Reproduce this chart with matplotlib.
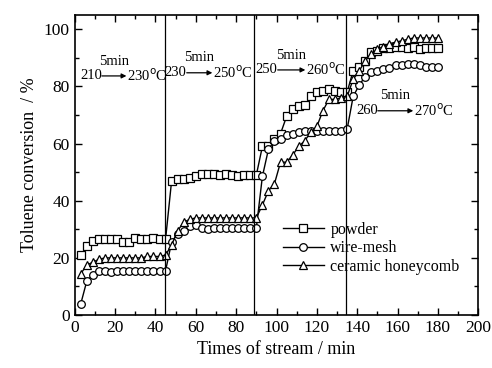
import matplotlib.pyplot as plt
import numpy as np

plt.rcParams['font.family'] = ['Liberation Serif', 'DejaVu Serif']

# time on stream (min), one point every 3 min
t = list(range(3, 181, 3))

powder = [21, 24, 26, 26.5, 26.5, 26.5, 26.5, 25.5, 25.5, 27, 26.5, 26.5, 27, 26.5, 26.5,
          47, 47.5, 47.5, 48, 48.5, 49.5, 49.5, 49.5, 49, 49.5, 49, 48.5, 49, 49, 49,
          59, 59, 61.5, 63.5, 69.5, 72, 73, 73.5, 76.5, 78, 78.5, 79, 78.5, 78, 78,
          85.5, 87, 89, 92, 92.5, 93.5, 93.5, 94, 94, 93.5, 94, 93, 93.5, 93.5, 93.5]

wire = [4, 12, 14, 15.5, 15.5, 15, 15.5, 15.5, 15.5, 15.5, 15.5, 15.5, 15.5, 15.5, 15.5,
        25.5, 28.5, 29.5, 31, 31.5, 30.5, 30, 30.5, 30.5, 30.5, 30.5, 30.5, 30.5, 30.5, 30.5,
        48.5, 58, 61, 61.5, 63, 63.5, 64, 64.5, 64.5, 64.5, 64.5, 64.5, 64.5, 64.5, 65,
        76.5, 80.5, 83.5, 85, 85.5, 86, 86.5, 87.5, 87.5, 88, 88, 87.5, 87, 87, 87]

ceramic = [14.5, 17.5, 18.5, 19.5, 20, 20, 20, 20, 20, 20, 20, 20.5, 20.5, 20.5, 21,
           24.5, 29.5, 32.5, 33.5, 34, 34, 34, 34, 34, 34, 34, 34, 34, 34, 34,
           38.5, 43.5, 46, 53.5, 53.5, 56, 59, 61, 64, 66, 71.5, 75.5, 75.5, 76, 76.5,
           82.5, 85.5, 89, 91.5, 93, 94, 95, 95.5, 96, 96.5, 97, 97, 97, 97, 97]

switch_t = [44.5, 89, 134.5]

fig = plt.figure(figsize=(4.92, 3.68), dpi=100)
ax = fig.add_axes([0.152, 0.144, 0.82, 0.815])

mk = dict(color='k', lw=1, markersize=5.5, markerfacecolor='white', markeredgewidth=0.9)
ax.plot(t, powder, marker='s', label='powder', **mk)
ax.plot(t, wire, marker='o', label='wire-mesh', **mk)
ax.plot(t, ceramic, marker='^', label='ceramic honeycomb', **mk)

for xv in switch_t:
    ax.axvline(xv, color='k', lw=0.9)

# temperature ramp notes
ramps = [(13.4, 25.6, 83.7, '210', '230'),
         (55.5, 68.2, 84.8, '230', '250'),
         (100.6, 114.3, 85.8, '250', '260'),
         (150.2, 167.8, 71.5, '260', '270')]
for x0, x1, yv, a, b in ramps:
    ax.annotate('', xy=(x1, yv), xytext=(x0, yv),
                arrowprops=dict(arrowstyle='-|>', color='k', lw=0.9,
                                mutation_scale=7, shrinkA=0, shrinkB=0))
    ax.text(x0, yv, a, ha='right', va='center', fontsize=10.5)
    ax.text(x1 + 0.3, yv, b + r'$^{\rm o}$C', ha='left', va='center', fontsize=10.5)
    ax.text((x0 + x1) / 2, yv + 5.2, '5min', ha='center', va='center', fontsize=10.5)

ax.set_xlim(0, 200)
ax.set_ylim(0, 105)
ax.set_xticks(np.arange(0, 201, 20))
ax.set_xticks(np.arange(0, 201, 10), minor=True)
ax.set_yticks(np.arange(0, 101, 20))
ax.set_yticks(np.arange(0, 101, 10), minor=True)
ax.tick_params(which='both', direction='in', top=True, right=True, labelsize=12.5, width=1)
ax.tick_params(which='major', length=5)
ax.tick_params(which='minor', length=3)
for s in ax.spines.values():
    s.set_linewidth(1.2)

ax.set_xlabel('Times of stream / min', fontsize=13)
ax.set_ylabel('Toluene conversion  / %', fontsize=13)

ax.legend(loc='upper left', bbox_to_anchor=(0.515, 0.31), frameon=False, fontsize=11.5,
          handlelength=2.6, handletextpad=0.4, borderpad=0, borderaxespad=0,
          labelspacing=0.15)

fig.savefig('out.png', dpi=100)
